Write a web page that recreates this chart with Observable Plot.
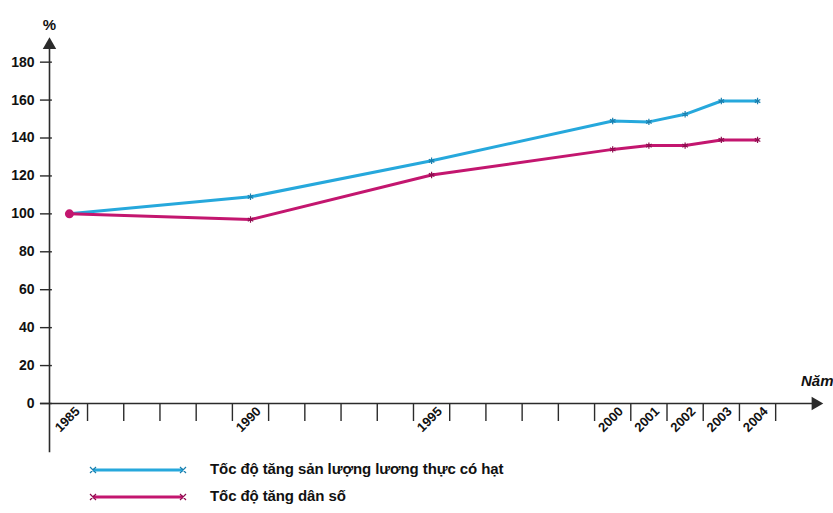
<!DOCTYPE html>
<html>
<head>
<meta charset="utf-8">
<script src="https://cdn.jsdelivr.net/npm/d3@7"></script>
<script src="https://cdn.jsdelivr.net/npm/@observablehq/plot@0.6"></script>
<style>
  html, body { margin: 0; padding: 0; background: #fff; }
  body { width: 833px; height: 513px; position: relative; overflow: hidden; font-family: "Liberation Sans", Arial, sans-serif; }
  #chart svg { display: block; }
  .legend { position: absolute; left: 0; width: 833px; }
  .legend .row { position: absolute; left: 0; height: 20px; width: 833px; }
  .legend svg { position: absolute; left: 88px; top: 0; }
  .legend span { position: absolute; left: 210px; top: 0px; font-size: 15px; font-weight: bold; color: #111; letter-spacing: -0.1px; white-space: nowrap; }
</style>
</head>
<body>
<div id="chart"></div>
<div class="legend" id="legend"></div>
<script>
// ---- data ----
const years = [1985, 1990, 1995, 2000, 2001, 2002, 2003, 2004];
const foodGrowth = [100, 109, 128, 149, 148.5, 152.5, 159.5, 159.5];
const popGrowth = [100, 97, 120.5, 134, 136, 136, 139, 139];
const yTicks = [0, 20, 40, 60, 80, 100, 120, 140, 160, 180];
const yearLabels = ["1985", "1990", "1995", "2000", "2001", "2002", "2003", "2004"];
const seriesNames = ["Tốc độ tăng sản lượng lương thực có hạt", "Tốc độ tăng dân số"];
const yAxisTitle = "%";
const xAxisTitle = "Năm";

const cyan = "#26a8dc";
const pink = "#c3166f";
const ink = "#2b2b2b";

const food = years.map((y, i) => ({year: y, value: foodGrowth[i]}));
const pop = years.map((y, i) => ({year: y, value: popGrowth[i]}));
// tick marks sit on the year-cell boundaries
const boundaries = d3.range(years[0] + 0.5, years[years.length - 1] + 1, 1);

const X0 = 1984.45, X1 = 2005.6, Y1 = 193;

const chart = Plot.plot({
  width: 833,
  height: 458,
  marginLeft: 49,
  marginRight: 18,
  marginTop: 37,
  marginBottom: 55,
  style: {fontFamily: "Liberation Sans, Arial, sans-serif", background: "white"},
  x: {domain: [X0, X1], axis: null},
  y: {domain: [0, Y1], axis: null},
  marks: [
    // x axis line + arrow
    Plot.ruleY([0], {x1: () => 1984.2, x2: () => X1, stroke: ink, strokeWidth: 1.6}),
    Plot.dot([X1], {x: d => d, y: () => 0, symbol: "triangle", rotate: 90, r: 5, fill: ink, stroke: "none"}),
    // y axis line + arrow
    Plot.ruleX([X0], {y1: () => -26, y2: () => 189, stroke: ink, strokeWidth: 1.6}),
    Plot.dot([X0], {x: d => d, y: () => 189, symbol: "triangle", r: 5, fill: ink, stroke: "none"}),
    // x ticks at cell boundaries
    Plot.ruleX(boundaries, {x: d => d, y1: () => 0, y2: () => -9.5, stroke: ink, strokeWidth: 1.4}),
    // y ticks crossing the axis
    Plot.ruleY(yTicks, {y: d => d, x1: () => 1984.2, x2: () => 1984.53, stroke: ink, strokeWidth: 1.4}),
    // y tick labels
    Plot.text(yTicks, {x: () => X0, y: d => d, text: d => String(d), textAnchor: "end", dx: -15, fontSize: 14, fontWeight: "bold", fill: "#111", letterSpacing: -0.6}),
    // x tick labels (rotated)
    Plot.text(years, {x: d => d, y: () => 0, text: (d, i) => yearLabels[i], rotate: -45, dx: -2, dy: 16, fontSize: 13, fontWeight: "bold", fill: "#111", letterSpacing: -0.4}),
    // axis titles
    Plot.text([yAxisTitle], {x: () => X0, y: () => Y1, text: d => d, dy: -12, fontSize: 15, fontWeight: "bold", fill: "#111"}),
    Plot.text([xAxisTitle], {x: () => X1, y: () => 0, text: d => d, textAnchor: "end", dx: 18, dy: -22, fontSize: 15, fontWeight: "bold", fontStyle: "italic", fill: "#111", letterSpacing: -0.8}),
    // series
    Plot.line(food, {x: "year", y: "value", stroke: cyan, strokeWidth: 3}),
    Plot.line(pop, {x: "year", y: "value", stroke: pink, strokeWidth: 3}),
    Plot.dot(food, {x: "year", y: "value", symbol: "asterisk", r: 3, stroke: "#1a7fae", strokeWidth: 1.2}),
    Plot.dot(pop, {x: "year", y: "value", symbol: "asterisk", r: 3, stroke: "#8e0d4f", strokeWidth: 1.2}),
    Plot.dot(pop.slice(0, 1), {x: "year", y: "value", r: 4.5, fill: pink, stroke: "none"})
  ]
});
document.getElementById("chart").appendChild(chart);

// legend below the chart
const legend = document.getElementById("legend");
legend.style.top = "460px";
const colors = [cyan, pink];
const darks = ["#1a7fae", "#8e0d4f"];
seriesNames.forEach((name, i) => {
  const row = document.createElement("div");
  row.className = "row";
  row.style.top = (i * 27) + "px";
  row.innerHTML =
    `<svg width="100" height="20"><line x1="5" x2="95" y1="10" y2="10" stroke="${colors[i]}" stroke-width="3"/>` +
    `<path d="M2,7L8,13M2,13L8,7M92,7L98,13M92,13L98,7" stroke="${darks[i]}" stroke-width="1.2"/></svg>` +
    `<span>${name}</span>`;
  legend.appendChild(row);
});
</script>
</body>
</html>
